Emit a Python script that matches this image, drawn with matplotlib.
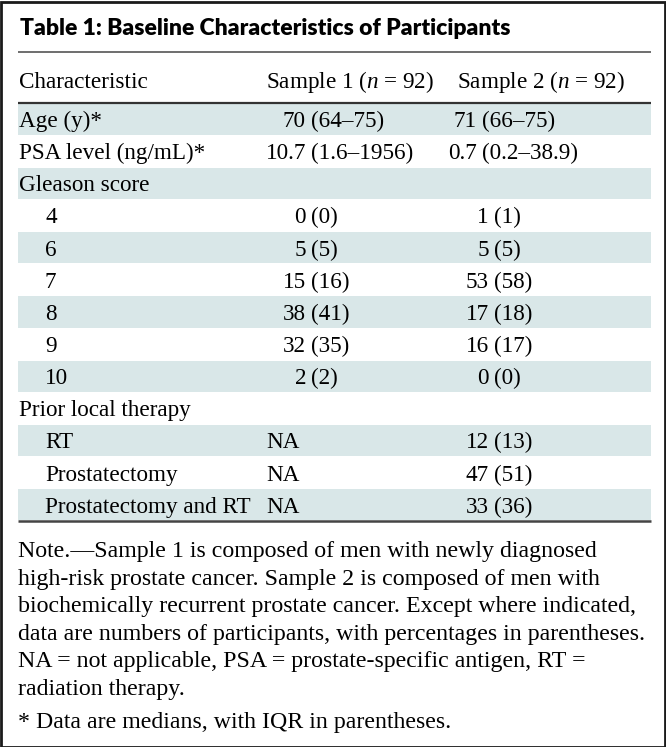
import matplotlib
matplotlib.use("Agg")
import matplotlib.pyplot as plt
from matplotlib.patches import Rectangle

# table content
title = "Table 1: Baseline Characteristics of Participants"
col_headers = ["Characteristic", "Sample 1 ($\\mathit{n}$ = 92)", "Sample 2 ($\\mathit{n}$ = 92)"]
characteristics = ["Age (y)*", "PSA level (ng/mL)*", "Gleason score", "4", "6", "7", "8", "9", "10",
                   "Prior local therapy", "RT", "Prostatectomy", "Prostatectomy and RT"]
indented = [0, 0, 0, 1, 1, 1, 1, 1, 1, 0, 1, 1, 1]
is_median = [1, 1, 0, 0, 0, 0, 0, 0, 0, 0, 0, 0, 0]
sample1 = ["70 (64–75)", "10.7 (1.6–1956)", "", "0 (0)", "5 (5)", "15 (16)", "38 (41)", "32 (35)",
           "2 (2)", "", "NA", "NA", "NA"]
sample2 = ["71 (66–75)", "0.7 (0.2–38.9)", "", "1 (1)", "5 (5)", "53 (58)", "17 (18)", "16 (17)",
           "0 (0)", "", "12 (13)", "47 (51)", "33 (36)"]
note_lines = [
    "Note.—Sample 1 is composed of men with newly diagnosed",
    "high-risk prostate cancer. Sample 2 is composed of men with",
    "biochemically recurrent prostate cancer. Except where indicated,",
    "data are numbers of participants, with percentages in parentheses.",
    "NA = not applicable, PSA = prostate-specific antigen, RT =",
    "radiation therapy.",
]
footnote = "* Data are medians, with IQR in parentheses."

plt.rcParams["font.family"] = ["Liberation Serif", "DejaVu Serif"]
plt.rcParams["mathtext.fontset"] = "custom"
plt.rcParams["mathtext.it"] = "Liberation Serif:italic"
plt.rcParams["mathtext.rm"] = "Liberation Serif"

W, H = 666, 747
fig = plt.figure(figsize=(W / 100, H / 100), dpi=100)
ax = fig.add_axes([0, 0, 1, 1])
ax.set_xlim(0, W)
ax.set_ylim(H, 0)
ax.axis("off")

shade = "#d9e7e8"
fs = 16.7
fs_note = 17.2
left, right = 18, 651
row_top, row_h = 103, 32.15
x_col = [19, 266, 457]
indent_x = 45
paren_x1 = 311
paren_x2_med, paren_x2_cnt = 482, 494

# title
ax.text(20, 35, title, fontsize=16.5, fontweight="heavy", family=["Lato", "DejaVu Sans"],
        va="baseline", ha="left")
ax.plot([left, right], [52, 52], color="#555555", lw=1.2, solid_capstyle="butt")

# header
for x, h in zip(x_col, col_headers):
    ax.text(x, 88, h, fontsize=fs, va="baseline", ha="left")
ax.plot([left, right], [103, 103], color="#333333", lw=1.6, solid_capstyle="butt")

# shaded rows (every other row)
n = len(characteristics)
ys = [row_top + i * row_h for i in range(n)]
shaded_idx = [i for i in range(n) if i % 2 == 0]
ax.barh([ys[i] + row_h / 2 for i in shaded_idx], right - left, height=row_h - 1, left=left,
        color=shade, zorder=0)


def put_value(x_start, anchor, y, s):
    if "(" in s:
        num, rest = s.split(" (", 1)
        ax.text(anchor - 5, y, num, fontsize=fs, va="baseline", ha="right")
        ax.text(anchor, y, "(" + rest, fontsize=fs, va="baseline", ha="left")
    elif s:
        ax.text(x_start, y, s, fontsize=fs, va="baseline", ha="left")


for i in range(n):
    yb = ys[i] + 24
    x0 = indent_x if indented[i] else x_col[0]
    ax.text(x0, yb, characteristics[i], fontsize=fs, va="baseline", ha="left")
    put_value(x_col[1], paren_x1, yb, sample1[i])
    put_value(x_col[2], paren_x2_med if is_median[i] else paren_x2_cnt, yb, sample2[i])

bottom = row_top + n * row_h
ax.plot([left, right], [bottom, bottom], color="#444444", lw=1.8, solid_capstyle="butt")

# notes
for k, line in enumerate(note_lines):
    ax.text(left, 557 + k * 27.6, line, fontsize=fs_note, va="baseline", ha="left")
ax.text(left, 728, footnote, fontsize=fs_note, va="baseline", ha="left")

# outer frame
fig.patches.append(Rectangle((0.5 / W, 0.5 / H), 1 - 2 / W, 1 - 2 / H, transform=fig.transFigure,
                             fill=False, edgecolor="#1a1a1a", lw=2))

fig.savefig("out.png", dpi=100)
